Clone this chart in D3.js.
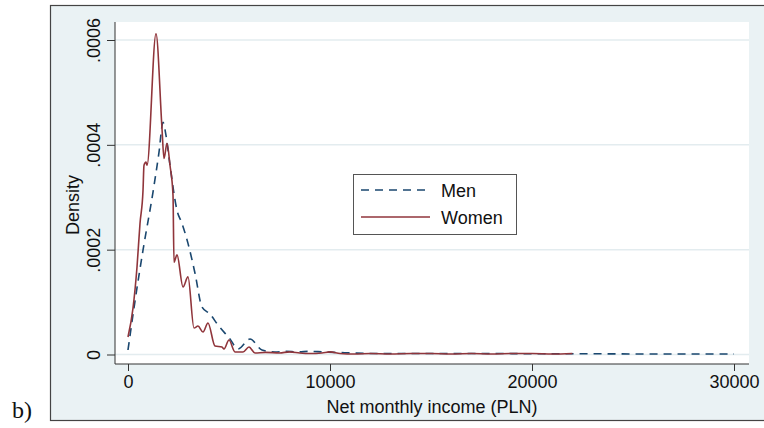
<!DOCTYPE html>
<html lang="en">
<head>
<meta charset="utf-8">
<script src="https://d3js.org/d3.v7.min.js"></script>
<style>
  body { margin: 0; background: #fff; }
  text { font-family: "Liberation Sans", Arial, sans-serif; fill: #111; }
</style>
</head>
<body>
<div id="chart"></div>
<script>

// tick values and labels
const xTicks = [0, 10000, 20000, 30000];
const yTicks = [0, 0.0002, 0.0004, 0.0006];
const yTickLabels = ["0", ".0002", ".0004", ".0006"];

// Men (dashed)
const menIncome = [0, 347, 743, 1238, 1535, 1733, 1881, 2079, 2426, 2673, 2970, 3317, 3663, 4059, 4455,
  5049, 5445, 6039, 6633, 7277, 7800, 8400, 9000, 9600, 10200, 11000, 12000, 14000, 16000, 18000,
  20000, 22000, 24000, 26000, 28000, 30000];
const menDensity = [0.0000086, 0.000102, 0.000199, 0.000310, 0.000386, 0.000443, 0.000418, 0.000361,
  0.000275, 0.000250, 0.000212, 0.000155, 0.0000905, 0.0000771, 0.0000562, 0.0000295, 0.0000105,
  0.0000295, 0.0000086, 0.0000048, 0.000006, 0.000005, 0.000006, 0.000005, 0.000004, 0.000003,
  0.000002, 0.000002, 0.000002, 0.000002, 0.0000015, 0.0000015, 0.0000012, 0.000001, 0.000001, 0.000001];

// Women (solid)
const womenIncome = [0, 248, 446, 594, 743, 792, 891, 941, 1386, 1683, 1782, 1931, 2079, 2228, 2277,
  2426, 2723, 2970, 3267, 3465, 3713, 3960, 4307, 4653, 4752, 5000, 5297, 5693, 5990, 6287, 6800,
  7500, 8000, 8500, 9000, 9600, 10000, 10500, 11200, 12000, 13000, 14000, 15000, 16000, 17000,
  18000, 19000, 20000, 21000, 22000];
const womenDensity = [0.0000333, 0.0000886, 0.000167, 0.000250, 0.000313, 0.000361, 0.000367, 0.000361,
  0.000612, 0.000431, 0.000374, 0.000403, 0.000361, 0.000304, 0.000176, 0.000190, 0.000129, 0.000148,
  0.0000505, 0.0000543, 0.0000429, 0.0000600, 0.0000162, 0.0000143, 0.0000105, 0.0000276, 0.0000048,
  0.0000048, 0.0000143, 0.0000029, 0.000004, 0.000003, 0.000005, 0.000003, 0.000002, 0.000003,
  0.000005, 0.000002, 0.000001, 0.000002, 0.000001, 0.000002, 0.000002, 0.000001, 0.000002,
  0.000001, 0.000002, 0.000002, 0.000001, 0.000002];

const series = [
  {name: "Men", color: "#1a476f", dash: "8,6", x: menIncome, y: menDensity},
  {name: "Women", color: "#90353b", dash: null, x: womenIncome, y: womenDensity}
];

const W = 764, H = 428;
// white plot region
const plot = {left: 115, top: 22, right: 749, bottom: 364};

const svg = d3.select("#chart")
  .append("svg")
    .attr("width", W)
    .attr("height", H);

// outer graph region (light bluish)
svg.append("rect")
  .attr("x", 50.5).attr("y", 5.5)
  .attr("width", 730).attr("height", 415)
  .attr("fill", "#eaf2f4")
  .attr("stroke", "#444")
  .attr("stroke-width", 1.2);

svg.append("rect")
  .attr("x", plot.left).attr("y", plot.top)
  .attr("width", plot.right - plot.left).attr("height", plot.bottom - plot.top)
  .attr("fill", "#fff");

const x = d3.scaleLinear().domain([0, 30000]).range([128, 734]);
const y = d3.scaleLinear().domain([0, 0.0006]).range([354.5, 40]);

// gridlines
svg.append("g")
  .selectAll("line")
  .data(yTicks)
  .join("line")
    .attr("x1", plot.left).attr("x2", plot.right)
    .attr("y1", d => y(d)).attr("y2", d => y(d))
    .attr("stroke", "#e3ecef")
    .attr("stroke-width", 1.5);

// y axis
const yAxis = svg.append("g")
  .attr("transform", `translate(${plot.left},0)`)
  .call(d3.axisLeft(y).tickValues(yTicks).tickSize(8).tickSizeOuter(0).tickFormat((d, i) => yTickLabels[i]));
yAxis.select(".domain").attr("d", `M0,${plot.top}V${plot.bottom}`).attr("stroke", "#333");
yAxis.selectAll(".tick line").attr("stroke", "#333");
yAxis.selectAll(".tick text")
  .attr("x", null).attr("dy", null)
  .attr("transform", "translate(-15,0) rotate(-90)")
  .attr("text-anchor", "middle")
  .style("font-size", "18px")
  .style("font-family", "Liberation Sans, Arial, sans-serif")
  .attr("fill", "#111");

// x axis
const xAxis = svg.append("g")
  .attr("transform", `translate(0,${plot.bottom})`)
  .call(d3.axisBottom(x).tickValues(xTicks).tickSize(7).tickSizeOuter(0).tickFormat(d3.format("d")));
xAxis.select(".domain").attr("d", `M${plot.left},0H${plot.right}`).attr("stroke", "#333");
xAxis.selectAll(".tick line").attr("stroke", "#333");
xAxis.selectAll(".tick text")
  .attr("y", 24).attr("dy", null)
  .style("font-size", "18px")
  .style("font-family", "Liberation Sans, Arial, sans-serif")
  .attr("fill", "#111");

// axis titles
svg.append("text")
  .attr("transform", "translate(79,205) rotate(-90)")
  .attr("text-anchor", "middle")
  .style("font-size", "18px")
  .text("Density");

svg.append("text")
  .attr("x", 432).attr("y", 413)
  .attr("text-anchor", "middle")
  .style("font-size", "18px")
  .text("Net monthly income (PLN)");

// curves
const line = d3.line()
  .x(d => x(d[0]))
  .y(d => y(d[1]))
  .curve(d3.curveMonotoneX);

series.forEach(s => {
  svg.append("path")
    .datum(s.x.map((v, i) => [v, s.y[i]]))
    .attr("d", line)
    .attr("fill", "none")
    .attr("stroke", s.color)
    .attr("stroke-width", 1.6)
    .attr("stroke-dasharray", s.dash);
});

// legend
const legend = svg.append("g").attr("transform", "translate(353,174)");
legend.append("rect")
  .attr("x", 0.5).attr("y", 0.5)
  .attr("width", 163).attr("height", 60)
  .attr("fill", "#fff")
  .attr("stroke", "#555");

series.forEach((s, i) => {
  const ly = 16 + i * 27;
  legend.append("line")
    .attr("x1", 8).attr("x2", 77)
    .attr("y1", ly).attr("y2", ly)
    .attr("stroke", s.color)
    .attr("stroke-width", 1.6)
    .attr("stroke-dasharray", s.dash);
  legend.append("text")
    .attr("x", 88).attr("y", ly + 6.5)
    .style("font-size", "18px")
    .text(s.name);
});

// panel label
svg.append("text")
  .attr("x", 12).attr("y", 418)
  .style("font-family", "Liberation Serif, Times New Roman, serif")
  .style("font-size", "24px")
  .text("b)");

</script>
</html>
